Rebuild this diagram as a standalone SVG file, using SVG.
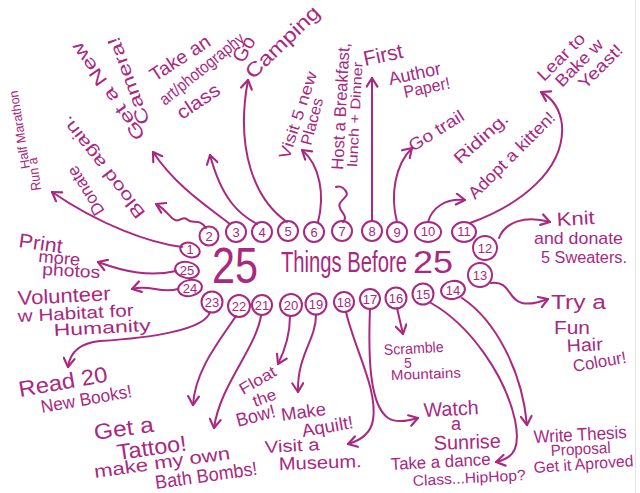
<svg xmlns="http://www.w3.org/2000/svg" width="640" height="493" viewBox="0 0 640 493">
<style>
.t{font-family:"Liberation Sans",Arial,sans-serif;fill:#A8297F;}
.n{font-family:"Liberation Sans",Arial,sans-serif;fill:#A8297F;font-size:13px;text-anchor:middle;}
.c{fill:none;stroke:#A8297F;stroke-width:2;}
.l{fill:none;stroke:#A8297F;stroke-width:2;stroke-linecap:round;stroke-linejoin:round;marker-end:url(#ah);}
.s{fill:none;stroke:#A8297F;stroke-width:2;stroke-linecap:round;stroke-linejoin:round;}
</style>
<defs>
<marker id="ah" viewBox="0 0 12 12" refX="10" refY="6" markerWidth="13" markerHeight="13" markerUnits="userSpaceOnUse" orient="auto">
<path d="M2,1 L10,6 L2,11" fill="none" stroke="#A8297F" stroke-width="2" stroke-linecap="round" stroke-linejoin="round"/>
</marker>
</defs>
<rect width="640" height="493" fill="#ffffff"/>
<line x1="635.5" y1="0" x2="635.5" y2="493" stroke="#e2e2e2" stroke-width="1"/>

<g id="title">
<text class="t" x="212" y="283" font-size="50" textLength="46" lengthAdjust="spacingAndGlyphs">25</text>
<text class="t" font-size="30" transform="translate(281,272) scale(0.675,1)">Things Before</text>
<text class="t" x="413" y="273" font-size="31" textLength="40" lengthAdjust="spacingAndGlyphs">25</text>
</g>

<g id="connectors">
<path class="l" d="M182,247 C150,243 100,225 52,192"/>
<path class="l" d="M206,228 C200,218 192,224 188,220 C182,214 180,225 172,218 C166,212 162,207 156,204"/>
<path class="l" d="M230,224 C205,205 175,185 153,152"/>
<path class="l" d="M257,224 C240,215 222,200 210,155"/>
<path class="l" d="M287,222 C255,200 235,150 248,80"/>
<path class="l" d="M318,222 C325,195 320,165 302,150"/>
<path class="s" d="M343,222 C350,215 336,210 340,203 C344,197 350,196 345,190 C342,186 338,186 336,187"/>
<path class="l" d="M372,221 L372,78"/>
<path class="l" d="M397,222 C390,195 395,165 412,148"/>
<path class="l" d="M428,222 C432,208 445,198 465,200"/>
<path class="l" d="M470,223 C520,205 565,170 562,125 C560,108 552,98 541,92"/>
<path class="l" d="M499,238 C505,222 525,215 550,222"/>
<path class="l" d="M491,283 C510,280 508,300 522,303 C530,305 540,302 548,299"/>
<path class="l" d="M462,298 C495,320 522,370 527,425"/>
<path class="l" d="M431,303 C470,325 505,375 515,420 C520,445 516,458 496,462"/>
<path class="l" d="M397,308 L403,334"/>
<path class="l" d="M370,309 C368,360 370,405 388,418 C396,423 408,421 418,418"/>
<path class="l" d="M346,312 C355,350 378,390 373,420 C371,432 362,440 348,444"/>
<path class="l" d="M316,315 C316,340 297,355 298,392"/>
<path class="l" d="M290,316 Q290,340 278,364"/>
<path class="l" d="M261,316 C255,350 220,385 214,428"/>
<path class="l" d="M236,316 C220,340 195,370 193,405"/>
<path class="l" d="M210,312 C205,330 150,338 100,341 C80,343 70,352 68,367"/>
<path class="l" d="M178,289 C160,294 150,284 132,289"/>
<path class="l" d="M176,271 C150,277 125,272 98,262"/>
</g>

<g id="n1">
<ellipse class="c" cx="190" cy="250" rx="10" ry="7" transform="rotate(20 190 250)"/>
<text class="n" x="190" y="254">1</text>
<text class="t" font-size="14" transform="translate(41,190) rotate(-97)" textLength="33" lengthAdjust="spacingAndGlyphs">Run a</text>
<text class="t" font-size="13" transform="translate(30,168) rotate(-99)" textLength="79" lengthAdjust="spacingAndGlyphs">Half Marathon</text>
</g>
<g id="n2">
<circle class="c" cx="209" cy="236" r="9.5"/>
<text class="n" x="209" y="240.5">2</text>
<text class="t" font-size="17" transform="translate(105,211) rotate(-122)" textLength="55" lengthAdjust="spacingAndGlyphs">Donate</text>
<text class="t" font-size="17" transform="translate(146,213) rotate(-128)" textLength="125" lengthAdjust="spacingAndGlyphs">Blood again.</text>
</g>
<g id="n3">
<circle class="c" cx="236" cy="232" r="10"/>
<text class="n" x="236" y="236.5">3</text>
<text class="t" font-size="18" transform="translate(146,135) rotate(-125)" textLength="115" lengthAdjust="spacingAndGlyphs">Get a New</text>
<text class="t" font-size="18" transform="translate(150,122) rotate(-110)" textLength="92" lengthAdjust="spacingAndGlyphs">Camera!</text>
</g>
<g id="n4">
<circle class="c" cx="262" cy="232" r="10"/>
<text class="n" x="262" y="236.5">4</text>
<text class="t" font-size="19" transform="translate(155,82) rotate(-33)" textLength="68" lengthAdjust="spacingAndGlyphs">Take an</text>
<text class="t" font-size="17" transform="translate(165,106) rotate(-39)" textLength="104" lengthAdjust="spacingAndGlyphs">art/photography</text>
<text class="t" font-size="19" transform="translate(182,120) rotate(-34)" textLength="48" lengthAdjust="spacingAndGlyphs">class</text>
</g>
<g id="n5">
<circle class="c" cx="288" cy="231" r="10"/>
<text class="n" x="288" y="235.5">5</text>
<text class="t" font-size="20" transform="translate(243,64) rotate(-60)">Go</text>
<text class="t" font-size="20" transform="translate(253,80) rotate(-44)" textLength="95" lengthAdjust="spacingAndGlyphs">Camping</text>
</g>
<g id="n6">
<circle class="c" cx="314" cy="232" r="10"/>
<text class="n" x="314" y="236.5">6</text>
<text class="t" font-size="16" transform="translate(289,160) rotate(-72)" textLength="91" lengthAdjust="spacingAndGlyphs">Visit 5 new</text>
<text class="t" font-size="16" transform="translate(311,146) rotate(-75)" textLength="48" lengthAdjust="spacingAndGlyphs">Places</text>
</g>
<g id="n7">
<circle class="c" cx="342" cy="231" r="10"/>
<text class="n" x="342" y="235.5">7</text>
<text class="t" font-size="17" transform="translate(343,170) rotate(-87)" textLength="127" lengthAdjust="spacingAndGlyphs">Host a Breakfast,</text>
<text class="t" font-size="14" transform="translate(357,167) rotate(-87)" textLength="105" lengthAdjust="spacingAndGlyphs">lunch + Dinner</text>
</g>
<g id="n8">
<circle class="c" cx="372" cy="231" r="10"/>
<text class="n" x="372" y="235.5">8</text>
<text class="t" font-size="21" transform="translate(365,66) rotate(-12)" textLength="40" lengthAdjust="spacingAndGlyphs">First</text>
<text class="t" font-size="18" transform="translate(390,85) rotate(-12)" textLength="53" lengthAdjust="spacingAndGlyphs">Author</text>
<text class="t" font-size="17" transform="translate(405,98) rotate(-12)" textLength="47" lengthAdjust="spacingAndGlyphs">Paper!</text>
</g>
<g id="n9">
<circle class="c" cx="397" cy="232" r="10"/>
<text class="n" x="397" y="236.5">9</text>
<text class="t" font-size="17" transform="translate(413,152) rotate(-32)" textLength="62" lengthAdjust="spacingAndGlyphs">Go trail</text>
<text class="t" font-size="17" transform="translate(460,165) rotate(-42)" textLength="67" lengthAdjust="spacingAndGlyphs">Riding.</text>
</g>
<g id="n10">
<ellipse class="c" cx="428" cy="232" rx="13" ry="10"/>
<text class="n" x="428" y="236">10</text>
<text class="t" font-size="17" transform="translate(475,200) rotate(-45)" textLength="115" lengthAdjust="spacingAndGlyphs">Adopt a kitten!</text>
</g>
<g id="n11">
<ellipse class="c" cx="464" cy="232" rx="12" ry="10"/>
<text class="n" x="464" y="236">11</text>
<text class="t" font-size="17" transform="translate(544,82) rotate(-45)" textLength="60" lengthAdjust="spacingAndGlyphs">Lear to</text>
<text class="t" font-size="17" transform="translate(562,88) rotate(-45)" textLength="60" lengthAdjust="spacingAndGlyphs">Bake w</text>
<text class="t" font-size="17" transform="translate(585,90) rotate(-45)" textLength="55" lengthAdjust="spacingAndGlyphs">Yeast!</text>
</g>
<g id="n12">
<circle class="c" cx="485" cy="248" r="12"/>
<text class="n" x="485" y="252.5">12</text>
<text class="t" font-size="19" transform="translate(557,226) rotate(-3)" textLength="38" lengthAdjust="spacingAndGlyphs">Knit</text>
<text class="t" font-size="17" x="534" y="244" textLength="89" lengthAdjust="spacingAndGlyphs">and donate</text>
<text class="t" font-size="16" x="541" y="263" textLength="86" lengthAdjust="spacingAndGlyphs">5 Sweaters.</text>
</g>
<g id="n13">
<circle class="c" cx="480" cy="275" r="12"/>
<text class="n" x="480" y="279.5">13</text>
<text class="t" font-size="20" x="551" y="309" textLength="55" lengthAdjust="spacingAndGlyphs">Try a</text>
<text class="t" font-size="18" x="554" y="334" textLength="36" lengthAdjust="spacingAndGlyphs">Fun</text>
<text class="t" font-size="18" transform="translate(567,352) rotate(-3)" textLength="36" lengthAdjust="spacingAndGlyphs">Hair</text>
<text class="t" font-size="17" transform="translate(574,372) rotate(-10)" textLength="54" lengthAdjust="spacingAndGlyphs">Colour!</text>
</g>
<g id="n14">
<ellipse class="c" cx="453" cy="290" rx="12" ry="9" transform="rotate(-10 453 290)"/>
<text class="n" x="453" y="294.5">14</text>
<text class="t" font-size="18" transform="translate(534,443) rotate(-3)" textLength="93" lengthAdjust="spacingAndGlyphs">Write Thesis</text>
<text class="t" font-size="16" transform="translate(551,456) rotate(-3)" textLength="60" lengthAdjust="spacingAndGlyphs">Proposal</text>
<text class="t" font-size="16" transform="translate(534,473) rotate(-4)" textLength="100" lengthAdjust="spacingAndGlyphs">Get it Aproved</text>
</g>
<g id="n15">
<circle class="c" cx="423" cy="294" r="10.5"/>
<text class="n" x="423" y="298.5">15</text>
<text class="t" font-size="17" transform="translate(391,470) rotate(-3)" textLength="100" lengthAdjust="spacingAndGlyphs">Take a dance</text>
<text class="t" font-size="15" transform="translate(413,486) rotate(-3)" textLength="113" lengthAdjust="spacingAndGlyphs">Class...HipHop?</text>
</g>
<g id="n16">
<circle class="c" cx="396" cy="298" r="10.5"/>
<text class="n" x="396" y="302.5">16</text>
<text class="t" font-size="15" transform="translate(384,355) rotate(-3)" textLength="60" lengthAdjust="spacingAndGlyphs">Scramble</text>
<text class="t" font-size="14" x="404" y="368">5</text>
<text class="t" font-size="14" transform="translate(391,380) rotate(-2)" textLength="70" lengthAdjust="spacingAndGlyphs">Mountains</text>
</g>
<g id="n17">
<circle class="c" cx="370" cy="299" r="10"/>
<text class="n" x="370" y="303.5">17</text>
<text class="t" font-size="20" transform="translate(424,417) rotate(-3)" textLength="55" lengthAdjust="spacingAndGlyphs">Watch</text>
<text class="t" font-size="18" x="451" y="430">a</text>
<text class="t" font-size="20" transform="translate(434,450) rotate(-2)" textLength="67" lengthAdjust="spacingAndGlyphs">Sunrise</text>
</g>
<g id="n18">
<circle class="c" cx="344" cy="302" r="10"/>
<text class="n" x="344" y="306.5">18</text>
<text class="t" font-size="17" transform="translate(265,453) rotate(-3)" textLength="55" lengthAdjust="spacingAndGlyphs">Visit a</text>
<text class="t" font-size="18" transform="translate(279,470) rotate(-2)" textLength="83" lengthAdjust="spacingAndGlyphs">Museum.</text>
</g>
<g id="n19">
<circle class="c" cx="316" cy="304" r="10.5"/>
<text class="n" x="316" y="308.5">19</text>
<text class="t" font-size="18" transform="translate(282,421) rotate(-8)" textLength="45" lengthAdjust="spacingAndGlyphs">Make</text>
<text class="t" font-size="18" transform="translate(303,437) rotate(-10)" textLength="52" lengthAdjust="spacingAndGlyphs">Aquilt!</text>
</g>
<g id="n20">
<circle class="c" cx="291" cy="305" r="11"/>
<text class="n" x="291" y="309.5">20</text>
<text class="t" font-size="16" transform="translate(243,395) rotate(-30)" textLength="40" lengthAdjust="spacingAndGlyphs">Float</text>
<text class="t" font-size="16" transform="translate(255,407) rotate(-20)" textLength="24" lengthAdjust="spacingAndGlyphs">the</text>
<text class="t" font-size="19" transform="translate(238,427) rotate(-15)" textLength="40" lengthAdjust="spacingAndGlyphs">Bow!</text>
</g>
<g id="n21">
<circle class="c" cx="262" cy="305" r="10"/>
<text class="n" x="262" y="309.5">21</text>
<text class="t" font-size="18" transform="translate(95,478) rotate(-8)" textLength="137" lengthAdjust="spacingAndGlyphs">make my own</text>
<text class="t" font-size="19" transform="translate(156,489) rotate(-8)" textLength="103" lengthAdjust="spacingAndGlyphs">Bath Bombs!</text>
</g>
<g id="n22">
<circle class="c" cx="239" cy="306" r="11"/>
<text class="n" x="239" y="310.5">22</text>
<text class="t" font-size="22" transform="translate(95,440) rotate(-8)" textLength="60" lengthAdjust="spacingAndGlyphs">Get a</text>
<text class="t" font-size="22" transform="translate(118,460) rotate(-8)" textLength="70" lengthAdjust="spacingAndGlyphs">Tattoo!</text>
</g>
<g id="n23">
<circle class="c" cx="212" cy="302" r="10.5"/>
<text class="n" x="212" y="306.5">23</text>
<text class="t" font-size="22" transform="translate(20,397) rotate(-10)" textLength="90" lengthAdjust="spacingAndGlyphs">Read 20</text>
<text class="t" font-size="18" transform="translate(42,413) rotate(-10)" textLength="92" lengthAdjust="spacingAndGlyphs">New Books!</text>
</g>
<g id="n24">
<ellipse class="c" cx="190" cy="288" rx="12" ry="8" transform="rotate(-10 190 288)"/>
<text class="n" x="190" y="292.5">24</text>
<text class="t" font-size="20" transform="translate(18,305) rotate(-3)" textLength="93" lengthAdjust="spacingAndGlyphs">Volunteer</text>
<text class="t" font-size="17" transform="translate(18,322) rotate(-3)" textLength="116" lengthAdjust="spacingAndGlyphs">w Habitat for</text>
<text class="t" font-size="17" transform="translate(54,336) rotate(-3)" textLength="97" lengthAdjust="spacingAndGlyphs">Humanity</text>
</g>
<g id="n25">
<ellipse class="c" cx="187" cy="270" rx="12" ry="8" transform="rotate(10 187 270)"/>
<text class="n" x="187" y="274.5">25</text>
<text class="t" font-size="20" transform="translate(18,247) rotate(8)" textLength="44" lengthAdjust="spacingAndGlyphs">Print</text>
<text class="t" font-size="17" transform="translate(38,262) rotate(5)" textLength="42" lengthAdjust="spacingAndGlyphs">more</text>
<text class="t" font-size="17" transform="translate(42,275) rotate(3)" textLength="58" lengthAdjust="spacingAndGlyphs">photos</text>
</g>
</svg>
